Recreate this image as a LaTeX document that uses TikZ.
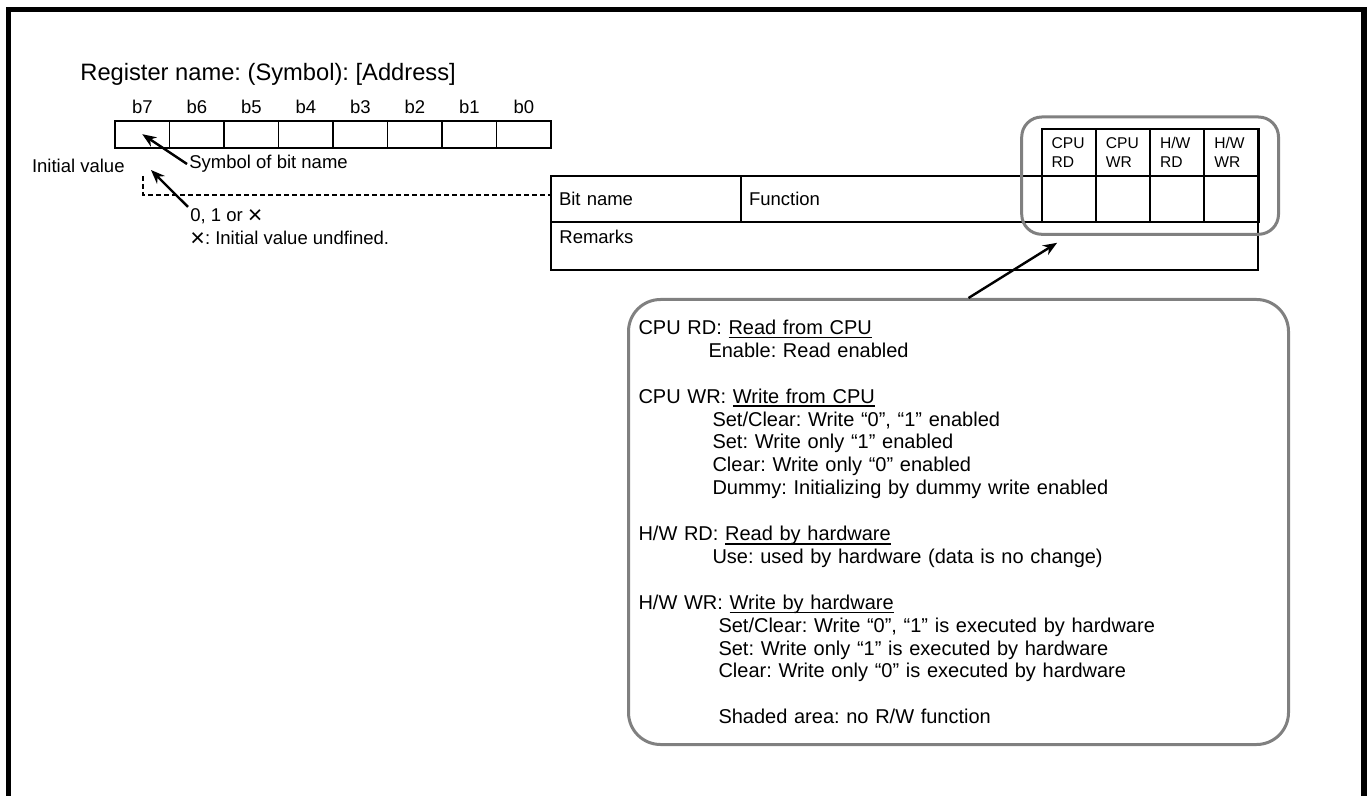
\documentclass[tikz,border=0pt]{standalone}
\usepackage{fontspec}
\setmainfont{Liberation Sans}
\usepackage{tikz}
\usetikzlibrary{arrows.meta,positioning,calc,fit}
\definecolor{roundgray}{RGB}{128,128,128}
\newcommand{\undefmark}{\raisebox{-1.2pt}{\fontsize{12.5}{10}\selectfont ×}}
\newcommand{\legendul}[1]{\leavevmode\setbox0\hbox{#1}\rlap{\rule[-2pt]{\wd0}{0.9pt}}\box0}
\frenchspacing

\begin{document}
\begin{tikzpicture}[
    x=0.5pt, y=-0.5pt,
    bitcell/.style={draw, line width=0.9pt, minimum width=27.25pt, minimum height=13.5pt, inner sep=0pt, outer sep=0pt, anchor=north west},
    tabcell/.style={draw, line width=1.1pt, anchor=north west, inner xsep=4pt, inner ysep=0pt, outer sep=0pt, align=left, font=\fontsize{9.25}{11}\selectfont},
    hdrcell/.style={tabcell, anchor=south west, inner xsep=5pt, text width=17.1pt, minimum height=23.35pt, font=\fontsize{7.8}{9.4}\selectfont},
    lbl/.style={font=\fontsize{9.25}{11}\selectfont, inner sep=1pt},
    grayround/.style={draw=roundgray, line width=1.5pt, rounded corners=10pt},
    pointer/.style={-{Stealth[length=7pt, width=5.5pt]}, line width=1.2pt},
    >=Stealth
]
\useasboundingbox (0,0) rectangle (1369,796);
\draw[line width=2.6pt] (8.5,796) -- (8.5,9.5) -- (1364,9.5) -- (1364,796);

% register
\node[anchor=west, inner sep=0pt, font=\fontsize{11.85}{14}\selectfont] (title) at (80,74) {Register name: (Symbol): [Address]};
\foreach \b [count=\i from 0] in {7,...,0} {
    \node[bitcell] (r\b) at (115+54.5*\i,120.7) {};
    \node[lbl] (b\b) at (142.3+54.5*\i,107) {b\b};
}
\node[lbl, anchor=east] (init) at (127,166) {Initial value};
\node[lbl, anchor=west] (sym) at (187,164) {Symbol of bit name};
\draw[pointer] (sym.west) -- (r7.center);
\node[lbl, anchor=west, inner ysep=0pt] (val) at (188,216) {0, 1 or \undefmark};
\node[lbl, anchor=west, inner ysep=0pt] (undef) at (188,239) {\undefmark: Initial value undfined.};
\coordinate (ivtip) at (151,170);
\coordinate (dtop) at (143,176);
\draw[pointer] ([yshift=0.5pt]val.north west) -- (ivtip);

% bit table
\node[tabcell, text width=87pt, minimum height=23.3pt] (bitname) at (551,175.7) {Bit name};
\node[tabcell, text width=142.35pt, minimum height=23.3pt] (func) at (bitname.north east) {Function};
\node[tabcell, minimum width=27.1pt, minimum height=23.3pt] (c1) at (func.north east) {};
\node[tabcell, minimum width=27.1pt, minimum height=23.3pt] (c2) at (c1.north east) {};
\node[tabcell, minimum width=27.1pt, minimum height=23.3pt] (c3) at (c2.north east) {};
\node[tabcell, minimum width=27.1pt, minimum height=23.3pt] (c4) at (c3.north east) {};
\node[hdrcell] (h1) at (c1.north west) {CPU\\RD};
\node[hdrcell] (h2) at (c2.north west) {CPU\\WR};
\node[hdrcell] (h3) at (c3.north west) {H/W\\RD};
\node[hdrcell] (h4) at (c4.north west) {H/W\\WR};
\node[tabcell, minimum width=353.5pt, minimum height=23.85pt] (remarks) at (bitname.south west) {};
\node[lbl, anchor=west] (remtxt) at ([xshift=3pt, yshift=-7.35pt]remarks.north west) {Remarks};
\draw[dashed, dash pattern=on 2.5pt off 1.5pt, line width=0.8pt] (dtop) |- ([yshift=2pt]bitname.west);
\node[grayround, fit=(h1)(c4), inner xsep=10pt, inner ysep=6pt] (grp) {};

% legend
\node[grayround, rounded corners=16pt, anchor=north west, minimum height=222.5pt, text width=320pt, inner xsep=5pt, align=left, font=\fontsize{10}{11.45}\selectfont] (legend) at (627,298) {%
CPU RD: \legendul{Read from CPU}\\
\hspace*{35pt}Enable: Read enabled\\[11.45pt]
CPU WR: \legendul{Write from CPU}\\
\hspace*{37pt}Set/Clear: Write “0”, “1” enabled\\
\hspace*{37pt}Set: Write only “1” enabled\\
\hspace*{37pt}Clear: Write only “0” enabled\\
\hspace*{37pt}Dummy: Initializing by dummy write enabled\\[11.45pt]
H/W RD: \legendul{Read by hardware}\\
\hspace*{37pt}Use: used by hardware (data is no change)\\[11.45pt]
H/W WR: \legendul{Write by hardware}\\
\hspace*{40pt}Set/Clear: Write “0”, “1” is executed by hardware\\
\hspace*{40pt}Set: Write only “1” is executed by hardware\\
\hspace*{40pt}Clear: Write only “0” is executed by hardware\\[11.45pt]
\hspace*{40pt}Shaded area: no R/W function};
\draw[pointer] ([xshift=5pt]legend.north) -- ([xshift=-46.5pt, yshift=-3.5pt]grp.south);

\end{tikzpicture}
\end{document}
